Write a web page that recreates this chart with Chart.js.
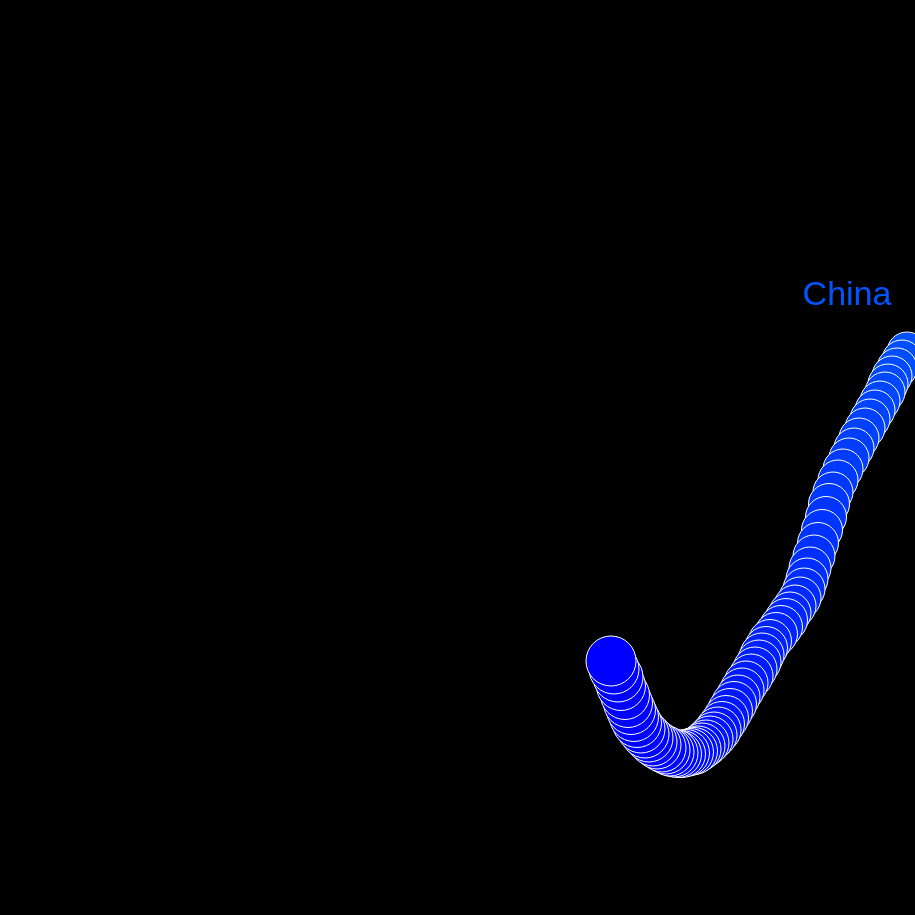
<!DOCTYPE html>
<html>
<head>
<meta charset="utf-8">
<script src="https://cdn.jsdelivr.net/npm/chart.js@4.4.1/dist/chart.umd.min.js"></script>
<style>
  html, body { margin: 0; padding: 0; background: #000; }
  #wrap { width: 915px; height: 915px; position: relative; }
</style>
</head>
<body>
<div id="wrap"><canvas id="c" width="915" height="915"></canvas></div>
<script>
// Trail of China (arbitrary units), drawn oldest first
const country = "China";
const xValues = [90.7,90.2,89.7,89.2,88.8,88.5,88.0,87.5,87.0,86.5,
                 85.9,85.4,84.9,84.3,83.8,83.3,82.9,82.6,82.2,81.8,
                 81.4,81.0,80.7,80.4,80.0,79.5,79.0,78.6,78.1,77.6,
                 77.0,76.6,76.2,75.9,75.5,75.1,74.6,74.2,73.8,73.4,
                 73.0,72.6,72.2,71.8,71.4,71.0,70.6,70.2,69.8,69.4,
                 69.0,68.6,68.2,67.8,67.4,67.0,66.6,66.2,65.7,65.3,
                 64.9,64.5,64.1,63.7,63.4,63.1,62.8,62.5,62.1,61.8,
                 61.4,61.1];
const yValues = [35.2,36.0,36.8,37.6,38.4,39.2,40.1,41.0,41.9,42.8,
                 43.8,44.8,45.8,46.9,48.0,49.2,50.4,51.7,53.0,54.3,
                 55.6,56.8,57.9,58.9,59.8,60.6,61.3,62.0,62.7,63.4,
                 64.1,64.8,65.5,66.2,66.9,67.6,68.3,69.0,69.7,70.4,
                 71.1,71.8,72.4,73.0,73.5,73.9,74.3,74.6,74.9,75.1,
                 75.2,75.3,75.4,75.4,75.3,75.2,75.0,74.8,74.5,74.2,
                 73.8,73.4,72.9,72.3,71.7,71.0,70.3,69.5,68.6,67.7,
                 66.9,66.1];
const sizes = [20,20,20,20,20,20,20,20,20,20,
               20,20,20,20,20,20,20.5,20.5,20.5,20.5,
               21,21,21,21,21,21,21,21.5,21.5,21.5,
               21.5,21.5,22,22,22,22,22,22,22,22.5,
               22.5,22.5,22.5,23,23,23,23,23,23,23.5,
               23.5,23.5,23.5,23.5,24,24,24,24,24,24,
               24,24,24,24.5,24.5,24.5,24.5,24.5,24.5,25,
               25,25];
const labelPos = { x: 84.7, y: 30.5 };

const points = xValues.map((x, i) => ({ x: x, y: yValues[i], r: sizes[i] }));
const n = points.length;
const colors = points.map((p, i) => {
  const t = i / (n - 1);
  const g = Math.round(80 * Math.pow(1 - t, 1.5));
  return 'rgb(0,' + g + ',255)';
});

const labelPlugin = {
  id: 'countryLabel',
  afterDatasetsDraw(chart) {
    const ctx = chart.ctx;
    const xs = chart.scales.x, ys = chart.scales.y;
    ctx.save();
    ctx.font = '34px "Liberation Sans", Arial, sans-serif';
    ctx.fillStyle = '#0055ff';
    ctx.textAlign = 'center';
    ctx.textBaseline = 'alphabetic';
    ctx.fillText(country, xs.getPixelForValue(labelPos.x), ys.getPixelForValue(labelPos.y));
    ctx.restore();
  }
};

new Chart(document.getElementById('c'), {
  type: 'bubble',
  data: {
    datasets: [{
      label: country,
      data: points,
      backgroundColor: colors,
      borderColor: '#ffffff',
      borderWidth: 1,
      clip: false
    }]
  },
  options: {
    responsive: false,
    animation: false,
    layout: { padding: 0, autoPadding: false },
    plugins: { legend: { display: false }, tooltip: { enabled: false } },
    scales: {
      x: { type: 'linear', min: 0, max: 91.5, display: false },
      y: { type: 'linear', min: 0, max: 91.5, reverse: true, display: false }
    }
  },
  plugins: [labelPlugin]
});
</script>
</body>
</html>
